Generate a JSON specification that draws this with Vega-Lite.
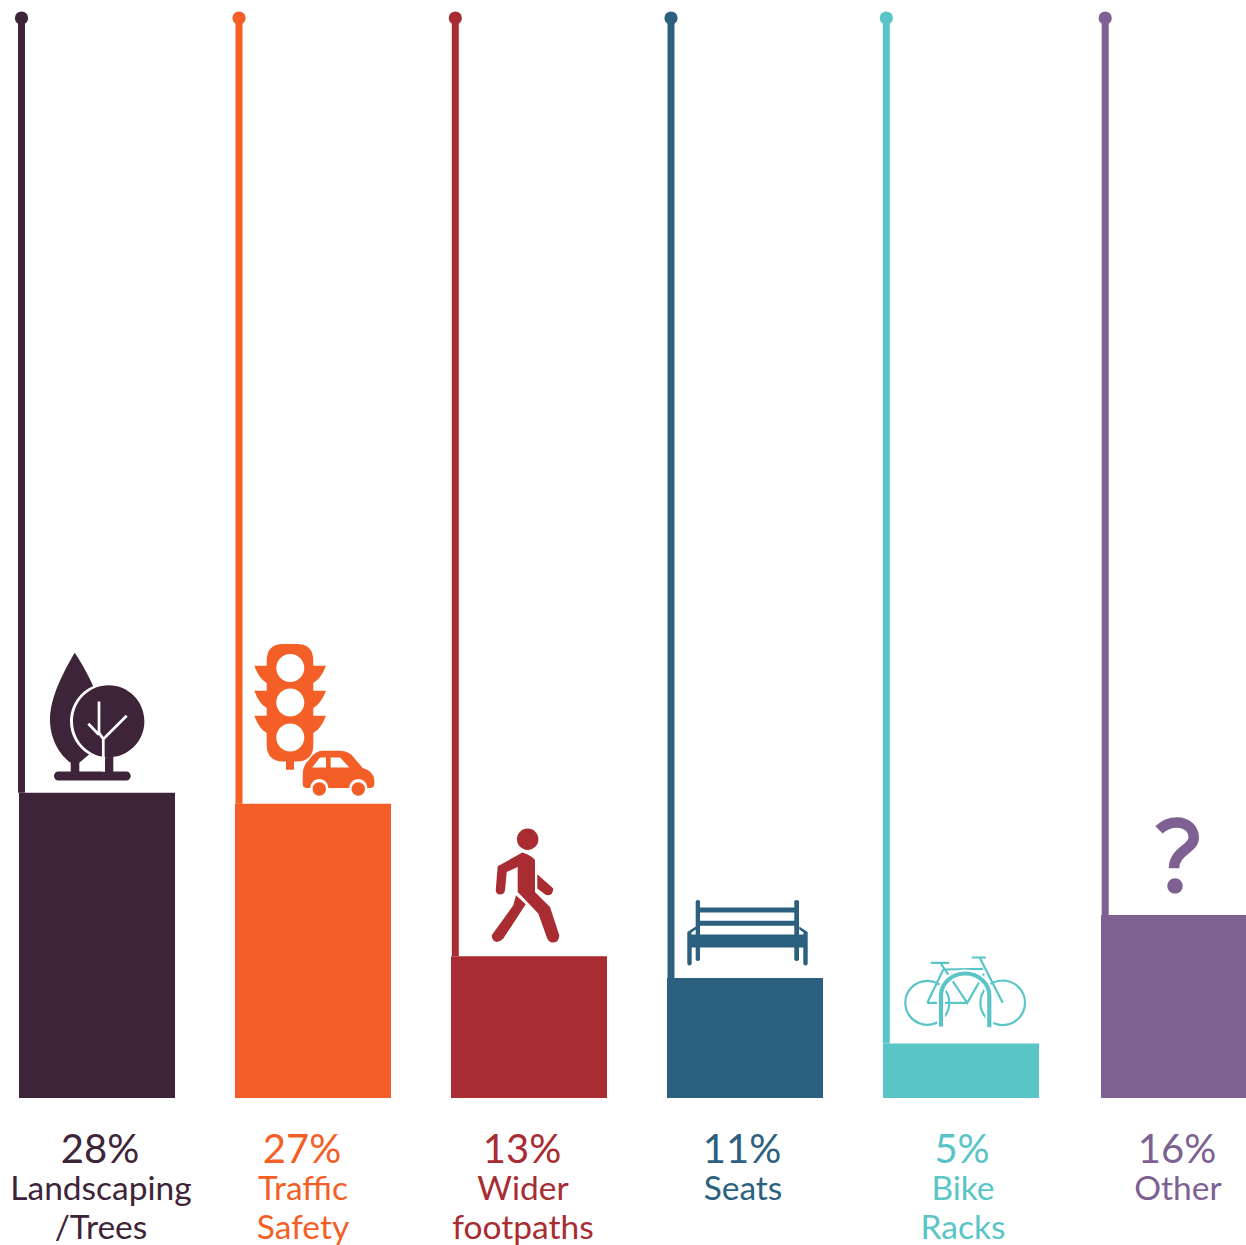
{
"$schema":"https://vega.github.io/schema/vega-lite/v6.json",
"width":1246,"height":1245,"padding":0,"autosize":{"type":"none"},
"background":"white",
"config":{"view":{"stroke":null}},
"data":{"values":[
{"cat":"Landscaping/Trees","value":28,"pct":"28%","label":["Landscaping","/Trees"]},
{"cat":"Traffic Safety","value":27,"pct":"27%","label":["Traffic","Safety"]},
{"cat":"Wider footpaths","value":13,"pct":"13%","label":["Wider","footpaths"]},
{"cat":"Seats","value":11,"pct":"11%","label":["Seats"]},
{"cat":"Bike Racks","value":5,"pct":"5%","label":["Bike","Racks"]},
{"cat":"Other","value":16.8,"pct":"16%","label":["Other"]}
]},
"encoding":{
"x":{"field":"cat","type":"nominal","sort":null,"axis":null,"scale":{"range":[19,1255],"paddingInner":0.27778,"paddingOuter":0}},
"color":{"field":"cat","type":"nominal","sort":null,"legend":null,"scale":{"domain":["Landscaping/Trees","Traffic Safety","Wider footpaths","Seats","Bike Racks","Other"],"range":["#3e2439","#f35f26","#a82c32","#2b617f","#5ac5c7","#7e6192"]}}
},
"layer":[
{"mark":{"type":"bar","clip":true,"opacity":1,"xOffset":{"expr":"datum.cat==='Other'?2:0"},"y2Offset":{"expr":"datum.cat==='Other'?-2:0"}},
 "encoding":{"y":{"field":"value","type":"quantitative","axis":null,"stack":null,"scale":{"domain":[0,100.734],"range":[1098,0],"nice":false,"zero":false}}}},
{"mark":{"type":"rule","strokeWidth":7,"xOffset":{"expr":"[2.5,4,4.3,4,3.3,6.2][indexof(['Landscaping/Trees','Traffic Safety','Wider footpaths','Seats','Bike Racks','Other'],datum.cat)]"}},
 "encoding":{"x":{"field":"cat","type":"nominal","sort":null,"bandPosition":0},"y":{"field":"value","type":"quantitative"},"y2":{"datum":99.08}}},
{"mark":{"type":"point","filled":true,"opacity":1,"shape":"circle","size":175,"xOffset":{"expr":"[2.5,4,4.3,4,3.3,6.2][indexof(['Landscaping/Trees','Traffic Safety','Wider footpaths','Seats','Bike Racks','Other'],datum.cat)]"}},
 "encoding":{"x":{"field":"cat","type":"nominal","sort":null,"bandPosition":0},"y":{"datum":99.08,"type":"quantitative"}}},
{"transform":[{"filter":"datum.cat!=='Bike Racks'"}],
 "mark":{"type":"point","filled":true,"opacity":1,"size":4},
 "encoding":{"y":{"field":"value","type":"quantitative"},
  "shape":{"field":"cat","type":"nominal","legend":null,"scale":{"domain":["Landscaping/Trees","Traffic Safety","Wider footpaths","Seats","Other"],"range":[
"M-22.3,-140C-16,-131 -9,-118 -3.8,-106.8A38.5,38.5 0 0 0 -7.9,-38.2L-17.7,-30V-21.3H29.2A4.5,4.5 0 0 1 29.2,-12.3H-38.5A4.5,4.5 0 0 1 -38.5,-21.3H-26.3V-30C-38,-38 -47,-55 -47,-73C-47,-95 -34,-120 -22.3,-140ZM-24,-71.5A35.7,36 0 0 1 47.4,-71.5A35.7,36 0 0 1 -24,-71.5ZM8,-45H16.3V-21H8Z",
"M-29.6,-159.7H-16.4Q0.3,-159.7 0.3,-143V-138H13Q8,-125 0.3,-120.7V-113H13Q8,-100 0.3,-95.7V-88H13Q8,-75 0.3,-70.7V-59Q0.3,-42.3 -16.4,-42.3H-19V-34H-27V-42.3H-29.6Q-46.3,-42.3 -46.3,-59V-70.7Q-54,-75 -58.7,-88H-46.3V-95.7Q-54,-100 -58.7,-113H-46.3V-120.7Q-54,-125 -58.7,-138H-46.3V-143Q-46.3,-159.7 -29.6,-159.7ZM-36.7,-135.7a14,14 0 1 0 28,0a14,14 0 1 0 -28,0ZM-36.7,-101.3a14,14 0 1 0 28,0a14,14 0 1 0 -28,0ZM-36.7,-66.3a14,14 0 1 0 28,0a14,14 0 1 0 -28,0ZM-6,-15.7Q-10.3,-15.7 -10.3,-20V-29Q-10.3,-38 -4,-44Q2,-53 10,-53H27Q36,-53 41,-46L49.7,-35.7Q60,-33 61.3,-24V-20Q61.3,-15.7 57,-15.7H54.3A9,9 0 0 0 36.3,-15.7H15.3A9,9 0 0 0 -2.7,-15.7ZM-0.7,-36.3H13V-46.3H7ZM17.7,-36.3H36.3L27,-46.3H17.7ZM-0.4,-14.7a6.7,6.7 0 1 0 13.4,0a6.7,6.7 0 1 0 -13.4,0ZM38.6,-14.7a6.7,6.7 0 1 0 13.4,0a6.7,6.7 0 1 0 -13.4,0Z",
"M-12,-117a10.7,10.7 0 1 0 21.4,0a10.7,10.7 0 1 0 -21.4,0ZM-6.7,-103.7Q4,-100 6,-96V-64.3L21,-49.3L30.3,-21Q30,-14 24.3,-13.7Q19,-14 17.7,-19.3L9.3,-42.7L-11.3,-64.3V-89.3L-22.3,-84.3L-24,-66Q-25,-61.7 -29,-61.7Q-33,-62 -33.3,-66L-31.3,-90ZM8.3,-82L24.3,-67.7Q24,-61 19,-61Q17,-61 16,-62L8.3,-67.7ZM-13,-61L-3.3,-52L-25.7,-17.7Q-29,-14.3 -32.3,-14.3Q-37,-15 -37.3,-21L-15.7,-51Z",
"M-49.3,-77Q-47.2,-79 -45,-77V-18Q-47.2,-16 -49.3,-18ZM49.3,-77Q51.6,-79 54,-77V-18Q51.6,-16 49.3,-18ZM-45,-70.7H49.3V-65.7H-45ZM-45,-57.3H49.3V-52.3H-45ZM-57.7,-43.7H62.7V-30.7H-57.7ZM-57.7,-43.7V-46L-49.3,-51.5V-48.5L-53.5,-45.5V-43.7ZM58.5,-43.7V-45.5L54.3,-48.5V-51.5L62.7,-46V-43.7ZM-57.7,-30.7H-53.3V-14Q-55.5,-11 -57.7,-14ZM58.3,-30.7H62.7V-14Q60.5,-11 58.3,-14Z",
"M-9.7,-29a7.7,7.7 0 1 0 15.4,0a7.7,7.7 0 1 0 -15.4,0Z"
]}}}},
{"transform":[{"filter":"datum.cat==='Landscaping/Trees'"}],
 "mark":{"type":"point","filled":false,"opacity":1,"size":4,"strokeWidth":2.7,"shape":"M2,-91.3V-60L6.3,-53.7M29.7,-77L6.3,-53.7V-21.3M-8.7,-69L2,-58"},
 "encoding":{"y":{"field":"value","type":"quantitative"},"color":{"value":"white"}}},
{"transform":[{"filter":"datum.cat==='Other'"}],
 "mark":{"type":"point","filled":false,"opacity":1,"size":4,"strokeWidth":10.5,"shape":"M-18,-85C-13,-90 -7,-92.5 0,-92.5C10,-92.5 16.7,-86 16.7,-77C16.7,-66 -3,-64 -3,-46.7"},
 "encoding":{"y":{"field":"value","type":"quantitative"}}},
{"transform":[{"filter":"datum.cat==='Bike Racks'"}],
 "mark":{"type":"point","filled":false,"opacity":1,"size":4,"strokeWidth":2.2,"shape":"M-55.7,-40.7a22,22 0 1 0 44,0a22,22 0 1 0 -44,0ZM19.4,-40.7a22.3,22.3 0 1 0 44.6,0a22.3,22.3 0 1 0 -44.6,0ZM-30.3,-80.7H-11.7M10.7,-86H25M-17.7,-74L22.3,-74.7M-20,-79.7L6.3,-40.7L23,-69.7M19,-85.3L41.7,-40.7M-33.7,-40.7H6.3M-33.7,-40.7L-17.7,-74"},
 "encoding":{"y":{"field":"value","type":"quantitative"}}},
{"transform":[{"filter":"datum.cat==='Bike Racks'"}],
 "mark":{"type":"point","filled":false,"opacity":1,"size":4,"strokeWidth":8,"shape":"M-20,-17V-48A24.15,22 0 0 1 28.3,-48V-16.3"},
 "encoding":{"y":{"field":"value","type":"quantitative"},"color":{"value":"white"}}},
{"transform":[{"filter":"datum.cat==='Bike Racks'"}],
 "mark":{"type":"point","filled":false,"opacity":1,"size":4,"strokeWidth":4.2,"shape":"M-20,-17V-48A24.15,22 0 0 1 28.3,-48V-16.3"},
 "encoding":{"y":{"field":"value","type":"quantitative"}}},
{"mark":{"type":"text","font":"Lato","fontSize":40,"align":"center","baseline":"alphabetic","dy":65,"dx":{"expr":"[3,-11,-7,-3,1,0][indexof(['Landscaping/Trees','Traffic Safety','Wider footpaths','Seats','Bike Racks','Other'],datum.cat)]"}},
 "encoding":{"y":{"datum":0,"type":"quantitative"},"text":{"field":"pct","type":"nominal"}}},
{"mark":{"type":"text","font":"Lato","fontSize":33.5,"align":"center","baseline":"alphabetic","lineHeight":39,"dy":102,"dx":{"expr":"[4,-10,-6,-2,2,1][indexof(['Landscaping/Trees','Traffic Safety','Wider footpaths','Seats','Bike Racks','Other'],datum.cat)]"}},
 "encoding":{"y":{"datum":0,"type":"quantitative"},"text":{"field":"label","type":"nominal"}}}
]
}
